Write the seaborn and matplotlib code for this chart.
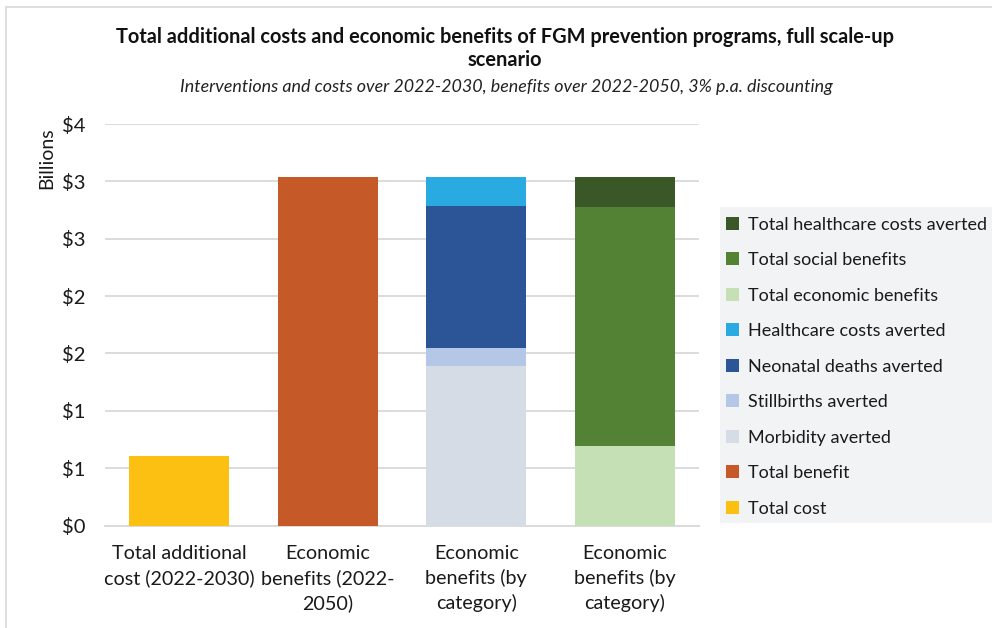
import math
import matplotlib
matplotlib.use("Agg")
import matplotlib.pyplot as plt
from matplotlib.patches import Rectangle, Patch
from matplotlib.ticker import FuncFormatter, MultipleLocator
import pandas as pd
import seaborn as sns

# Category keys and their displayed tick labels
category_keys = ["cost", "benefit", "by_cat_a", "by_cat_b"]
tick_labels = [
    "Total additional\ncost (2022-2030)",
    "Economic\nbenefits (2022-\n2050)",
    "Economic\nbenefits (by\ncategory)",
    "Economic\nbenefits (by\ncategory)",
]

# Values in billions USD
total_cost = 0.61
total_benefit = 3.04
# breakdown by outcome (bottom to top)
outcome_names = ["Morbidity averted", "Stillbirths averted",
                 "Neonatal deaths averted", "Healthcare costs averted"]
outcome_values = [1.39, 0.157, 1.234, 0.26]
# breakdown by benefit type (bottom to top)
type_names = ["Total economic benefits", "Total social benefits",
              "Total healthcare costs averted"]
type_values = [0.69, 2.09, 0.26]

colors = {
    "Total cost": "#FCC013",
    "Total benefit": "#C55A28",
    "Morbidity averted": "#D6DCE5",
    "Stillbirths averted": "#B4C7E7",
    "Neonatal deaths averted": "#2B5597",
    "Healthcare costs averted": "#29ABE2",
    "Total economic benefits": "#C5E0B4",
    "Total social benefits": "#548235",
    "Total healthcare costs averted": "#3A5728",
}

sns.set_theme(style="white")
plt.rcParams["font.family"] = ["Lato", "DejaVu Sans"]

W, H = 992, 628
fig = plt.figure(figsize=(W / 100, H / 100), dpi=100)
ax = fig.add_axes([105 / W, 1 - 525.5 / H, (699 - 105) / W, (525.5 - 124) / H])

# Build one row per drawn layer; stacked bars are drawn as cumulative totals,
# tallest first, so each segment shows its own share.
rows = [("cost", "Total cost", total_cost, total_cost),
        ("benefit", "Total benefit", total_benefit, total_benefit)]
cum = 0.0
for name, val in zip(outcome_names, outcome_values):
    cum += val
    rows.append(("by_cat_a", name, val, cum))
cum = 0.0
for name, val in zip(type_names, type_values):
    cum += val
    rows.append(("by_cat_b", name, val, cum))
df = pd.DataFrame(rows, columns=["category", "series", "value", "top"])

for _, r in df.sort_values("top", ascending=False).iterrows():
    sns.barplot(data=pd.DataFrame([r]), x="category", y="top", order=category_keys,
                color=colors[r["series"]], saturation=1, width=0.673,
                edgecolor="none", linewidth=0, ax=ax, zorder=3)

ax.set_xlim(-0.5, 3.5)
ax.set_ylim(0, 3.5)
ax.yaxis.set_major_locator(MultipleLocator(0.5))
ax.yaxis.set_major_formatter(FuncFormatter(lambda v, p: f"${math.floor(v + 0.5)}"))
ax.set_xticks(range(len(category_keys)))
ax.set_xticklabels(tick_labels, fontsize=14.2, color="#1a1a1a", linespacing=1.47)
ax.tick_params(axis="y", labelsize=14.5, labelcolor="#1a1a1a", length=0, pad=14)
ax.tick_params(axis="x", length=0, pad=14)
ax.set_xlabel("")
ax.set_ylabel("")
ax.grid(axis="y", color="#D9D9D9", linewidth=1.3, zorder=0)
ax.grid(axis="x", visible=False)
for s in ["top", "right", "left"]:
    ax.spines[s].set_visible(False)
ax.spines["bottom"].set_color("#D9D9D9")
ax.spines["bottom"].set_linewidth(1.3)
ax.set_axisbelow(True)

fig.text(47 / W, 1 - 158 / H, "Billions", rotation=90, ha="center", va="center",
         fontsize=14, color="#1a1a1a")

# Titles
fig.text(505 / W, 1 - 37 / H, "Total additional costs and economic benefits of FGM prevention programs, full scale-up",
         ha="center", va="center", fontsize=14.4, fontweight="bold", color="#111111")
fig.text(505 / W, 1 - 60 / H, "scenario", ha="center", va="center",
         fontsize=14.4, fontweight="bold", color="#111111")
fig.text(506 / W, 1 - 87 / H,
         "Interventions and costs over 2022-2030, benefits over 2022-2050, 3% p.a. discounting",
         ha="center", va="center", fontsize=12.9, style="italic", color="#222222")

# Outer chart border
fig.patches.append(Rectangle((6 / W, -0.01), 1.0, 1 - 7 / H + 0.01, transform=fig.transFigure,
                             facecolor="none", edgecolor="#D9D9D9", linewidth=1.2))

# Legend panel
fig.patches.append(Rectangle((720 / W, 1 - 523.3 / H), (W - 720) / W, (523.3 - 207.3) / H,
                             transform=fig.transFigure, facecolor="#F2F3F5",
                             edgecolor="none", zorder=0))
legend_order = ["Total healthcare costs averted", "Total social benefits",
                "Total economic benefits", "Healthcare costs averted",
                "Neonatal deaths averted", "Stillbirths averted",
                "Morbidity averted", "Total benefit", "Total cost"]
handles = [Patch(facecolor=colors[n], edgecolor="none", label=n) for n in legend_order]
fig.legend(handles=handles, loc="upper left", bbox_to_anchor=(722 / W, 1 - 213 / H),
           frameon=False, fontsize=13, handlelength=0.72, handleheight=0.72,
           handletextpad=0.5, labelspacing=1.08, borderaxespad=0, borderpad=0.2,
           labelcolor="#1a1a1a")

fig.savefig("out.png", dpi=100)
